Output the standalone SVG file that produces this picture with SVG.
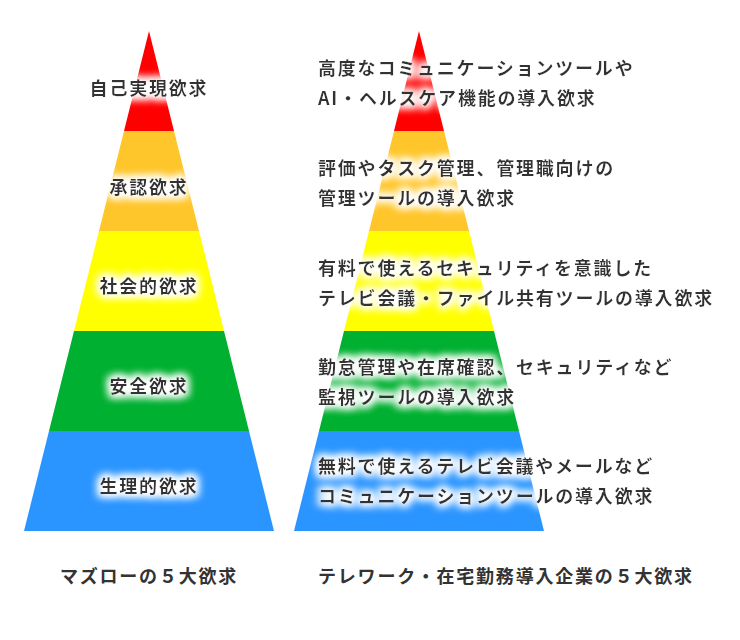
<svg xmlns="http://www.w3.org/2000/svg" width="740" height="640" viewBox="0 0 740 640">
<style>
text{font-family:"Noto Sans CJK JP","Noto Sans",sans-serif;font-weight:700;font-size:18px;fill:#333;letter-spacing:1.8px}
.c{text-anchor:middle}
.lbl{filter:url(#glow)}
.red{fill:#ff0000}.org{fill:#ffc62b}.yel{fill:#ffff00}.grn{fill:#00b030}.blu{fill:#2b95ff}
</style>
<defs>
<filter id="glow" x="-30%" y="-80%" width="160%" height="260%">
<feMorphology in="SourceAlpha" operator="dilate" radius="2" result="d"/>
<feGaussianBlur in="d" stdDeviation="4" result="b"/>
<feFlood flood-color="#ffffff"/>
<feComposite in2="b" operator="in" result="g"/>
<feMerge><feMergeNode in="g"/><feMergeNode in="g"/><feMergeNode in="SourceGraphic"/></feMerge>
</filter>
</defs>
<rect width="740" height="640" fill="#fff"/>
<g id="maslow">
<g id="m1"><polygon class="red" points="149,31 174,131 124,131"/></g>
<g id="m2"><polygon class="org" points="124,131 174,131 199,231 99,231"/></g>
<g id="m3"><polygon class="yel" points="99,231 199,231 224,331 74,331"/></g>
<g id="m4"><polygon class="grn" points="74,331 224,331 249,431 49,431"/></g>
<g id="m5"><polygon class="blu" points="49,431 249,431 274,531 24,531"/></g>
<g class="lbl">
<text class="c" x="149" y="95">自己実現欲求</text>
<text class="c" x="149" y="194">承認欲求</text>
<text class="c" x="149" y="293">社会的欲求</text>
<text class="c" x="149" y="393">安全欲求</text>
<text class="c" x="149" y="493">生理的欲求</text>
</g>
<text id="cap1" class="c" x="149" y="583">マズローの５大欲求</text>
</g>
<g id="telework">
<g id="t1"><polygon class="red" points="419,31 444,131 394,131"/></g>
<g id="t2"><polygon class="org" points="394,131 444,131 469,231 369,231"/></g>
<g id="t3"><polygon class="yel" points="369,231 469,231 494,331 344,331"/></g>
<g id="t4"><polygon class="grn" points="344,331 494,331 519,431 319,431"/></g>
<g id="t5"><polygon class="blu" points="319,431 519,431 544,531 294,531"/></g>
<g class="lbl">
<text x="318" y="75">高度なコミュニケーションツールや</text>
<text x="318" y="105">AI・ヘルスケア機能の導入欲求</text>
<text x="318" y="175">評価やタスク管理、管理職向けの</text>
<text x="318" y="205">管理ツールの導入欲求</text>
<text x="318" y="275">有料で使えるセキュリティを意識した</text>
<text x="318" y="305">テレビ会議・ファイル共有ツールの導入欲求</text>
<text x="318" y="374">勤怠管理や在席確認、セキュリティなど</text>
<text x="318" y="404">監視ツールの導入欲求</text>
<text x="318" y="473">無料で使えるテレビ会議やメールなど</text>
<text x="318" y="503">コミュニケーションツールの導入欲求</text>
</g>
<text id="cap2" x="318" y="583">テレワーク・在宅勤務導入企業の５大欲求</text>
</g>
<g id="connectors"/>
</svg>
